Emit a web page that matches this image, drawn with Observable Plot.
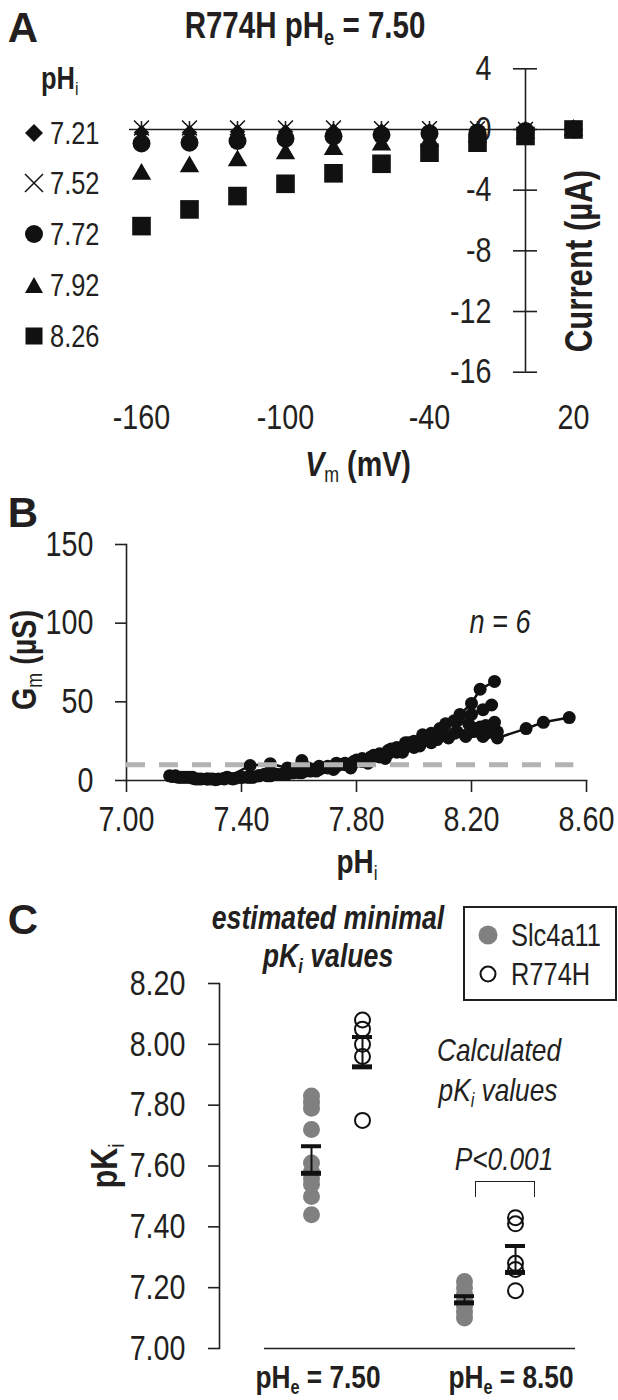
<!DOCTYPE html>
<html>
<head>
<meta charset="utf-8">
<script src="https://cdn.jsdelivr.net/npm/d3@7"></script>
<script src="https://cdn.jsdelivr.net/npm/@observablehq/plot@0.6"></script>
<style>
  html, body { margin: 0; padding: 0; background: #fff; }
  #root { position: relative; width: 618px; height: 1400px; overflow: hidden;
          font-family: "Liberation Sans", Arial, sans-serif; color: #231f20; }
  .panel { position: absolute; left: 0; }
  .panel svg { overflow: visible; }
  .lbl { position: absolute; white-space: nowrap; line-height: 1; }
  .lbl sub { font-size: 0.62em; vertical-align: -0.32em; line-height: 0; }
  .lbl sub.n { font-weight: normal; font-style: normal; }
  .leg { position: absolute; display: flex; align-items: center; }
  .leg svg { display: block; }
</style>
</head>
<body>
<div id="root"></div>
<script>
// ---------------- Panel A data: I–V curves, R774H, pHe 7.50 ----------------
const vmA = [-160, -140, -120, -100, -80, -60, -40, -20, 0, 20];
const phiA = ["7.21", "7.52", "7.72", "7.92", "8.26"];
const iA_721 = [-0.2, -0.2, -0.15, -0.15, -0.1, -0.1, -0.1, -0.05, 0, 0];
const iA_752 = [0.1, 0.1, 0.1, 0.1, 0.1, 0.05, 0.05, 0.05, 0, 0];
const iA_772 = [-0.92, -0.87, -0.76, -0.6, -0.45, -0.35, -0.25, -0.2, -0.1, 0];
const iA_792 = [-2.95, -2.45, -2.05, -1.6, -1.31, -1.02, -0.76, -0.5, -0.25, -0.05];
const iA_826 = [-6.37, -5.27, -4.39, -3.58, -2.89, -2.26, -1.53, -0.87, -0.43, 0];
const yTicksA = [4, 0, -4, -8, -12, -16];
const xTicksA = [-160, -100, -40, 20];

// ---------------- Panel B data: Gm vs pHi, 6 oocytes ----------------
const ph1 = [7.18,7.23,7.28,7.34,7.40,7.46,7.52,7.58,7.64,7.70,7.76,7.82,7.88,7.94,8.00,8.06,8.11,8.16,8.20,8.23,8.28];
const gm1 = [2,1.5,1,1.5,2,3,4,5,7,9,11,14,17,21,25,30,36,42,49,58,63];
const ph2 = [7.16,7.21,7.26,7.32,7.38,7.44,7.50,7.56,7.62,7.68,7.74,7.80,7.86,7.92,7.98,8.04,8.10,8.15,8.20,8.24,8.27];
const gm2 = [2.5,2,1,1,1.5,2,3,4,6,8,10,13,16,20,24,28,33,38,42,45,48];
const ph3 = [7.15,7.20,7.25,7.31,7.37,7.43,7.49,7.55,7.61,7.67,7.73,7.79,7.85,7.91,7.97,8.03,8.09,8.15,8.21,8.25,8.28];
const gm3 = [3,2,1,0.5,1,2,3,4,5,7,9,11,14,17,21,25,28,31,33,35,37];
const ph4 = [7.22,7.28,7.34,7.40,7.46,7.52,7.58,7.64,7.70,7.76,7.82,7.88,7.94,8.00,8.06,8.12,8.18,8.24,8.29,8.39,8.45,8.54];
const gm4 = [2,1,1,2,3,4,5,6,8,10,12,15,18,21,24,27,28,28,27,33,37,40];
const ph5 = [7.17,7.23,7.29,7.35,7.43,7.50,7.56,7.61,7.67,7.73,7.79,7.85,7.91,7.97,8.03,8.09,8.14,8.19,8.23,8.27];
const gm5 = [3,2,1,2,9.5,10.7,8,12.7,9,11,12,15,19,24,29,33,38,36,34,32];
const ph6 = [7.19,7.24,7.30,7.36,7.42,7.48,7.54,7.60,7.66,7.72,7.78,7.84,7.90,7.96,8.02,8.08,8.14,8.20,8.25,8.29];
const gm6 = [2,1,1,1.5,2,4,4,5,6,7,8,11,14,18,22,26,30,31,30,31];
const gmThreshold = [10];
const yTicksB = [0, 50, 100, 150];
const xTicksB = [7.0, 7.4, 7.8, 8.2, 8.6];

// ---------------- Panel C data: pKi ----------------
const groupsC = ["Slc4a11 7.50", "R774H 7.50", " ", "Slc4a11 8.50", "R774H 8.50"];
const pki_slc_750 = [7.83, 7.81, 7.79, 7.72, 7.61, 7.58, 7.56, 7.54, 7.50, 7.44];
const pki_r774h_750 = [8.08, 8.05, 8.00, 7.96, 7.75];
const pki_slc_850 = [7.22, 7.20, 7.18, 7.16, 7.14, 7.12, 7.10];
const pki_r774h_850 = [7.43, 7.41, 7.28, 7.26, 7.19];
const meanC = [7.576, 7.926, 7.150, 7.250];
const semC = [0.089, 0.098, 0.022, 0.087];
const statGroupsC = ["Slc4a11 7.50", "R774H 7.50", "Slc4a11 8.50", "R774H 8.50"];
const yTicksC = [7.0, 7.2, 7.4, 7.6, 7.8, 8.0, 8.2];

// ---------------- helpers ----------------
const INK = "#231f20";
const FONT = '"Liberation Sans", Arial, sans-serif';
const NARROW = 0.82;
const root = document.getElementById("root");

// horizontally condense every text of a Plot svg around its own anchor (Arial-Narrow look)
function condense(svg, k = NARROW) {
  svg.querySelectorAll("text").forEach(t => {
    let tr = t.getAttribute("transform") || "";
    const x = t.getAttribute("x");
    if (x !== null) { tr += ` translate(${x},0)`; t.removeAttribute("x"); }
    t.setAttribute("transform", (tr + ` scale(${k},1)`).trim());
  });
  return svg;
}
function addPanel(svg, top) {
  const d = document.createElement("div");
  d.className = "panel";
  d.style.top = top + "px";
  d.appendChild(condense(svg));
  root.appendChild(d);
}
function label(html, x, y, o = {}) {
  const d = document.createElement("div");
  d.className = "lbl";
  d.innerHTML = html;
  d.style.left = x + "px";
  d.style.top = y + "px";
  d.style.fontSize = (o.size || 30) + "px";
  if (o.bold) d.style.fontWeight = "bold";
  if (o.italic) d.style.fontStyle = "italic";
  const k = o.sx == null ? NARROW : o.sx;
  const ax = o.anchor === "start" ? "0" : o.anchor === "end" ? "-100%" : "-50%";
  d.style.transformOrigin = o.anchor === "start" ? "left center" : o.anchor === "end" ? "right center" : "center center";
  d.style.transform = `translate(${ax},-50%)` + (o.rotate ? " rotate(-90deg)" : "") + ` scaleX(${k})`;
  root.appendChild(d);
  return d;
}
const baseStyle = (size) => ({fontFamily: FONT, fontSize: size + "px", color: INK, background: "transparent", overflow: "visible"});

// ================= PANEL A =================
const seriesA = [
  {ph: "8.26", values: iA_826},
  {ph: "7.92", values: iA_792},
  {ph: "7.72", values: iA_772},
  {ph: "7.21", values: iA_721},
  {ph: "7.52", values: iA_752}
];
const rowsA = seriesA.flatMap(s => vmA.map((v, i) => ({vm: v, cur: s.values[i], ph: s.ph})));
const only = (ph) => rowsA.filter(d => d.ph === ph);

const plotA = Plot.plot({
  width: 618, height: 490, margin: 0,
  x: {domain: [-160, 20], range: [141, 573], axis: null},
  y: {domain: [-16, 4], range: [371.7, 68.3], axis: null},
  style: baseStyle(35),
  marks: [
    Plot.ruleY([0], {x1: -165, x2: 20, stroke: INK, strokeWidth: 1.6}),
    Plot.ruleX([0], {y1: -16, y2: 4, stroke: INK, strokeWidth: 1.6}),
    Plot.ruleY(yTicksA, {x1: 0, x2: 0, insetLeft: -12, insetRight: -12, stroke: INK, strokeWidth: 1.6}),
    Plot.ruleX(vmA, {y1: 0, y2: 0, insetTop: -8, insetBottom: -8, stroke: INK, strokeWidth: 1.6}),
    Plot.text(yTicksA, {x: 0, y: d => d, text: d => String(d), textAnchor: "end", dx: -34, fontSize: 35, fill: INK}),
    Plot.text(xTicksA, {x: d => d, y: -16, dy: 46, text: d => String(d), fontSize: 35, fill: INK}),
    Plot.dot(only("8.26"), {x: "vm", y: "cur", symbol: "square", r: 10.5, fill: "#111"}),
    Plot.dot(only("7.92"), {x: "vm", y: "cur", symbol: "triangle", r: 7.2, fill: "#111"}),
    Plot.dot(only("7.72"), {x: "vm", y: "cur", symbol: "circle", r: 9, fill: "#111"}),
    Plot.dot(only("7.21"), {x: "vm", y: "cur", symbol: "diamond2", r: 7, fill: "#111"}),
    Plot.dot(only("7.52"), {x: "vm", y: "cur", symbol: "times", r: 6.8, stroke: "#111", strokeWidth: 1.5})
  ]
});
addPanel(plotA, 0);

label("A", 23, 28, {size: 42, bold: true, sx: 1});
label('R774H pH<sub>e</sub> = 7.50', 305, 26, {size: 36, bold: true});
label('pH<sub class="n">i</sub>', 41, 78, {size: 31, bold: true, anchor: "start"});
label('Current (µA)', 579, 261, {size: 38, bold: true, rotate: true});
label('<i>V</i><sub class="n">m</sub> (mV)', 358, 463, {size: 35, bold: true});

// legend for panel A (inline svg symbols)
const legSyms = {
  "7.21": '<polygon points="9,0 18,9 9,18 0,9" fill="#111"/>',
  "7.52": '<path d="M0,0 L18,18 M18,0 L0,18" stroke="#111" stroke-width="1.5" fill="none"/>',
  "7.72": '<circle cx="9" cy="9" r="9" fill="#111"/>',
  "7.92": '<polygon points="9,1 18,17 0,17" fill="#111"/>',
  "8.26": '<rect x="0.5" y="0.5" width="17" height="17" fill="#111"/>'
};
const legY = [133, 183, 234, 285, 336];
phiA.forEach((ph, i) => {
  const d = document.createElement("div");
  d.className = "leg";
  d.style.left = "25px";
  d.style.top = (legY[i] - 9) + "px";
  d.innerHTML = `<svg width="18" height="18" viewBox="0 0 18 18" style="overflow:visible">${legSyms[ph]}</svg>`;
  root.appendChild(d);
  label(ph, 50, legY[i], {size: 31, anchor: "start"});
});

// ================= PANEL B =================
const tracesB = [[ph1, gm1], [ph2, gm2], [ph3, gm3], [ph4, gm4], [ph5, gm5], [ph6, gm6]];
const rowsB = tracesB.flatMap(([ph, gm], t) => ph.map((p, i) => ({trace: t, ph: p, gm: gm[i]})));

const plotB = Plot.plot({
  width: 618, height: 400,
  marginLeft: 126, marginRight: 32, marginTop: 54, marginBottom: 110,
  x: {domain: [7.0, 8.6]},
  y: {domain: [0, 150]},
  style: baseStyle(35),
  marks: [
    Plot.frame({anchor: "left", stroke: INK, strokeWidth: 1.6}),
    Plot.frame({anchor: "bottom", stroke: INK, strokeWidth: 1.6}),
    Plot.axisY({ticks: yTicksB, tickSize: 11, tickPadding: 22, tickFormat: d => String(d), label: null, strokeWidth: 1.6}),
    Plot.axisX({ticks: xTicksB, tickSize: 12, tickPadding: 14, tickFormat: d => d.toFixed(2), label: null, strokeWidth: 1.6}),
    Plot.line(rowsB, {x: "ph", y: "gm", z: "trace", stroke: "#111", strokeWidth: 2.5}),
    Plot.dot(rowsB, {x: "ph", y: "gm", r: 6.5, fill: "#111"}),
    Plot.ruleY(gmThreshold, {x1: 7.0, x2: 8.556, stroke: "#b3b3b3", strokeWidth: 5, strokeDasharray: "19,14"})
  ]
});
addPanel(plotB, 490);

label("B", 23, 513, {size: 42, bold: true, sx: 1});
label('G<sub class="n">m</sub> (µS)', 23, 660, {size: 35, bold: true, rotate: true});
label('<i>n</i> = 6', 500, 621, {size: 33, italic: true});
label('pH<sub class="n">i</sub>', 357, 861, {size: 34, bold: true});

// ================= PANEL C =================
const rowsSlc = [
  ...pki_slc_750.map(v => ({g: groupsC[0], v})),
  ...pki_slc_850.map(v => ({g: groupsC[3], v}))
];
const rowsR = [
  ...pki_r774h_750.map(v => ({g: groupsC[1], v})),
  ...pki_r774h_850.map(v => ({g: groupsC[4], v}))
];
const statsC = statGroupsC.map((g, i) => ({g, mean: meanC[i], hi: meanC[i] + semC[i]}));
const baseline = [{from: groupsC[0], to: groupsC[1]}, {from: groupsC[3], to: groupsC[4]}];

const plotC = Plot.plot({
  width: 618, height: 520,
  marginLeft: 219, marginRight: 0, marginTop: 103, marginBottom: 52,
  x: {type: "point", domain: groupsC, range: [284, 542], axis: null},
  y: {domain: [7.0, 8.2]},
  style: baseStyle(35),
  marks: [
    Plot.frame({anchor: "left", stroke: INK, strokeWidth: 1.6}),
    Plot.axisY({ticks: yTicksC, tickSize: 11, tickPadding: 23, tickFormat: d => d.toFixed(2), label: null, strokeWidth: 1.6}),
    Plot.ruleY([baseline[0]], {x1: "from", x2: "to", y: () => 7.0, insetLeft: -47, insetRight: -47, stroke: INK, strokeWidth: 1.6}),
    Plot.ruleY([baseline[1]], {x1: "from", x2: "to", y: () => 7.0, insetLeft: -55, insetRight: -60, stroke: INK, strokeWidth: 1.6}),
    Plot.dot(rowsSlc, {x: "g", y: "v", r: 8.5, fill: "#808080"}),
    Plot.dot(rowsR, {x: "g", y: "v", r: 7.5, fill: "none", stroke: "#111", strokeWidth: 2}),
    Plot.ruleX(statsC, {x: "g", y1: "mean", y2: "hi", stroke: "#111", strokeWidth: 2}),
    Plot.ruleY(statsC, {x1: "g", x2: "g", y: "hi", insetLeft: -10, insetRight: -10, stroke: "#111", strokeWidth: 4}),
    Plot.ruleY(statsC, {x1: "g", x2: "g", y: "mean", insetLeft: -10, insetRight: -10, stroke: "#111", strokeWidth: 5})
  ]
});
addPanel(plotC, 880);

label("C", 23, 920, {size: 42, bold: true, sx: 1});
label('estimated minimal', 328, 918, {size: 32.5, bold: true, italic: true});
label('pK<sub>i</sub> values', 328, 956, {size: 32.5, bold: true, italic: true});
label('Calculated', 499, 1050, {size: 32, italic: true});
label('pK<sub>i</sub> values', 498, 1090, {size: 32, italic: true});
label('<i>P</i>&lt;0.001', 504, 1159, {size: 32, italic: true});
label('pK<sub class="n">i</sub>', 104, 1166, {size: 37, bold: true, rotate: true});
label('pH<sub>e</sub> = 7.50', 318, 1377, {size: 32, bold: true});
label('pH<sub>e</sub> = 8.50', 511, 1377, {size: 32, bold: true});

// significance bracket
const br = document.createElement("div");
Object.assign(br.style, {position: "absolute", left: "475px", top: "1181px", width: "60px", height: "16px",
  border: "1.5px solid " + INK, borderBottom: "none", boxSizing: "border-box"});
root.appendChild(br);

// legend box for panel C
const lg = document.createElement("div");
Object.assign(lg.style, {position: "absolute", left: "463px", top: "906px", width: "154px", height: "95px",
  border: "2px solid " + INK, boxSizing: "border-box", background: "#fff"});
root.appendChild(lg);
const legC = [
  {name: "Slc4a11", svg: '<circle cx="10" cy="10" r="9.5" fill="#808080"/>', y: 935},
  {name: "R774H", svg: '<circle cx="10" cy="10" r="7.5" fill="none" stroke="#111" stroke-width="2"/>', y: 974}
];
legC.forEach(e => {
  const d = document.createElement("div");
  d.className = "leg";
  d.style.left = "478px";
  d.style.top = (e.y - 10) + "px";
  d.innerHTML = `<svg width="20" height="20" viewBox="0 0 20 20">${e.svg}</svg>`;
  root.appendChild(d);
  label(e.name, 511, e.y, {size: 31, anchor: "start"});
});
</script>
</body>
</html>
